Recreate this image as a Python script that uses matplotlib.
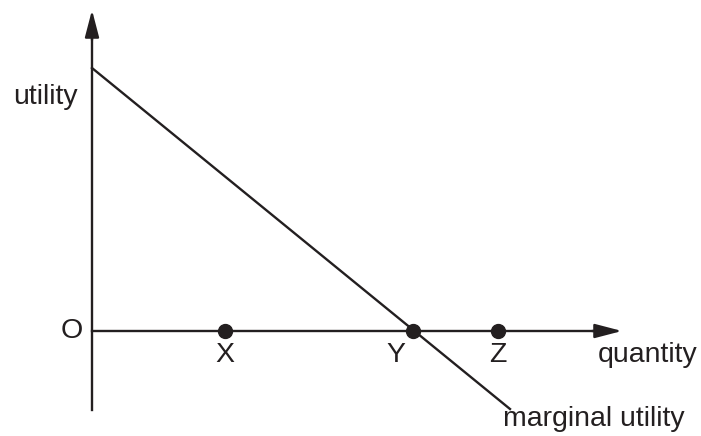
import matplotlib
matplotlib.use("Agg")
import matplotlib.pyplot as plt

# Data (quantity units, utility units; origin at O)
point_labels = ["X", "Y", "Z"]
point_q = [1.33, 3.21, 4.06]
mu_q = [0.0, 4.18]
mu_u = [2.63, -0.78]
q_axis_end = 5.30
u_axis_end = 3.21
u_axis_bottom = -0.79

plt.rcParams['font.family'] = ['Liberation Sans', 'DejaVu Sans']

fig = plt.figure(figsize=(7.01, 4.36), dpi=100)
ax = fig.add_axes([0, 0, 1, 1])
ax.set_xlim(-0.92, 6.09)
ax.set_ylim(-1.05, 3.31)
ax.axis('off')

lw = 1.7
col = '#231f20'
astyle = '-|>,head_length=1.65,head_width=0.43'
# vertical axis with arrow
ax.plot([0, 0], [u_axis_bottom, u_axis_end - 0.2], color=col, lw=lw)
ax.annotate('', xy=(0, u_axis_end), xytext=(0, u_axis_end - 0.3),
            arrowprops=dict(arrowstyle=astyle, color=col, lw=lw,
                            shrinkA=0, shrinkB=0))
# horizontal axis with arrow
ax.plot([0, q_axis_end - 0.2], [0, 0], color=col, lw=lw)
ax.annotate('', xy=(q_axis_end, 0), xytext=(q_axis_end - 0.3, 0),
            arrowprops=dict(arrowstyle=astyle, color=col, lw=lw,
                            shrinkA=0, shrinkB=0))
# marginal utility line
ax.plot(mu_q, mu_u, color=col, lw=lw)
# points
ax.plot(point_q, [0] * len(point_q), 'o', color=col, ms=10, zorder=5)

fs = 20.5
for q, lab in zip(point_q, point_labels):
    dx = -0.17 if lab == "Y" else 0.0
    ax.text(q + dx, -0.24, lab, ha='center', va='center', fontsize=fs, color=col)
ax.text(-0.2, 0, "O", ha='center', va='center', fontsize=fs, color=col)
ax.text(-0.14, 2.34, "utility", ha='right', va='center', fontsize=fs, color=col)
ax.text(5.06, -0.24, "quantity", ha='left', va='center', fontsize=fs, color=col)
ax.text(4.11, -0.88, "marginal utility", ha='left', va='center', fontsize=fs, color=col)

fig.savefig("out.png", dpi=100)
